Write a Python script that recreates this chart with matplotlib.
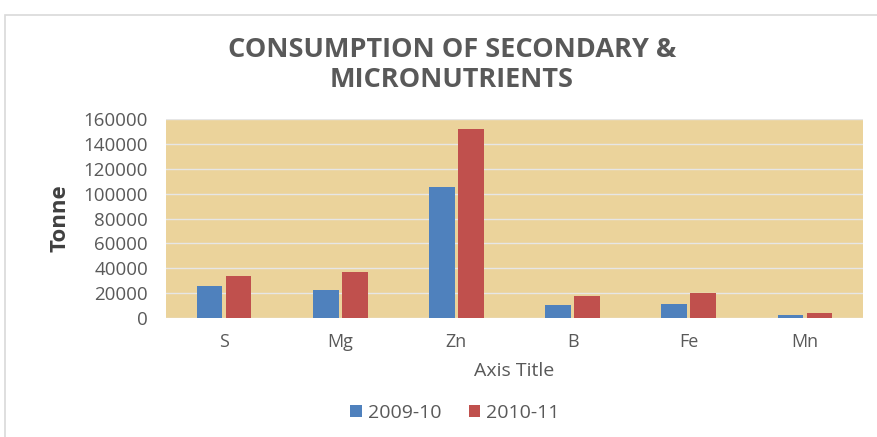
"""
Consumo de nutrientes secundários e micronutrientes, 2009-10 vs 2010-11.
"""

import numpy as np
import matplotlib
matplotlib.use("Agg")
import matplotlib.pyplot as plt
from matplotlib.patches import Rectangle

nutrientes = ["S", "Mg", "Zn", "B", "Fe", "Mn"]
valores_2009 = [25700, 22500, 105300, 10200, 11200, 2100]
valores_2010 = [33800, 36700, 151700, 17400, 19800, 3700]
rotulos_series = ["2009-10", "2010-11"]

cor_azul = "#4F81BD"
cor_vermelho = "#C0504D"
cor_texto = "#595959"
cor_fundo = "#EBD39B"

plt.rcParams["font.family"] = ["Open Sans", "DejaVu Sans"]

fig = plt.figure(figsize=(8.77, 4.37), dpi=100)
fig.patch.set_facecolor("white")

# moldura do gráfico (estilo Excel)
fig.patches.append(Rectangle((5 / 877, -0.05), 1.0, 1 - 15 / 437 + 0.05,
                             transform=fig.transFigure, fill=False,
                             edgecolor="#D9D9D9", linewidth=1.2))

ax = fig.add_axes([166 / 877, 1 - 318 / 437, 697 / 877, 199 / 437])
ax.set_facecolor(cor_fundo)

x = np.arange(len(nutrientes))
largura = 0.22
ax.bar(x - 0.125, valores_2009, largura, color=cor_azul, label=rotulos_series[0], zorder=3)
ax.bar(x + 0.125, valores_2010, largura, color=cor_vermelho, label=rotulos_series[1], zorder=3)

ax.set_xlim(-0.5, len(nutrientes) - 0.5)
ax.set_ylim(0, 160000)
ax.set_yticks(np.arange(0, 160001, 20000))
ax.grid(axis="y", color="#E6E6E6", linewidth=1.0, zorder=1)
ax.set_axisbelow(True)

for lado in ["top", "right", "left", "bottom"]:
    ax.spines[lado].set_visible(False)
ax.tick_params(axis="both", length=0, colors=cor_texto)
ax.tick_params(axis="y", pad=13, labelsize=13.5)
ax.tick_params(axis="x", pad=11, labelsize=13)
ax.set_xticks(x)
ax.set_xticklabels(nutrientes)

ax.set_ylabel("Tonne", fontsize=16, fontweight="bold", color="#404040", labelpad=9)
ax.set_xlabel("Axis Title", fontsize=14, color=cor_texto, labelpad=8)

fig.text(0.515, 1 - 65 / 437, "CONSUMPTION OF SECONDARY &\nMICRONUTRIENTS",
         ha="center", va="center", fontsize=19.5, fontweight="bold",
         color=cor_texto, linespacing=1.2)

leg = fig.legend(loc="center", bbox_to_anchor=(455 / 877, 1 - 413 / 437), ncol=2,
                 frameon=False, fontsize=14, handlelength=0.6, handleheight=0.6,
                 handletextpad=0.3, columnspacing=1.4)
for t in leg.get_texts():
    t.set_color(cor_texto)

fig.savefig("out.png", dpi=100)
